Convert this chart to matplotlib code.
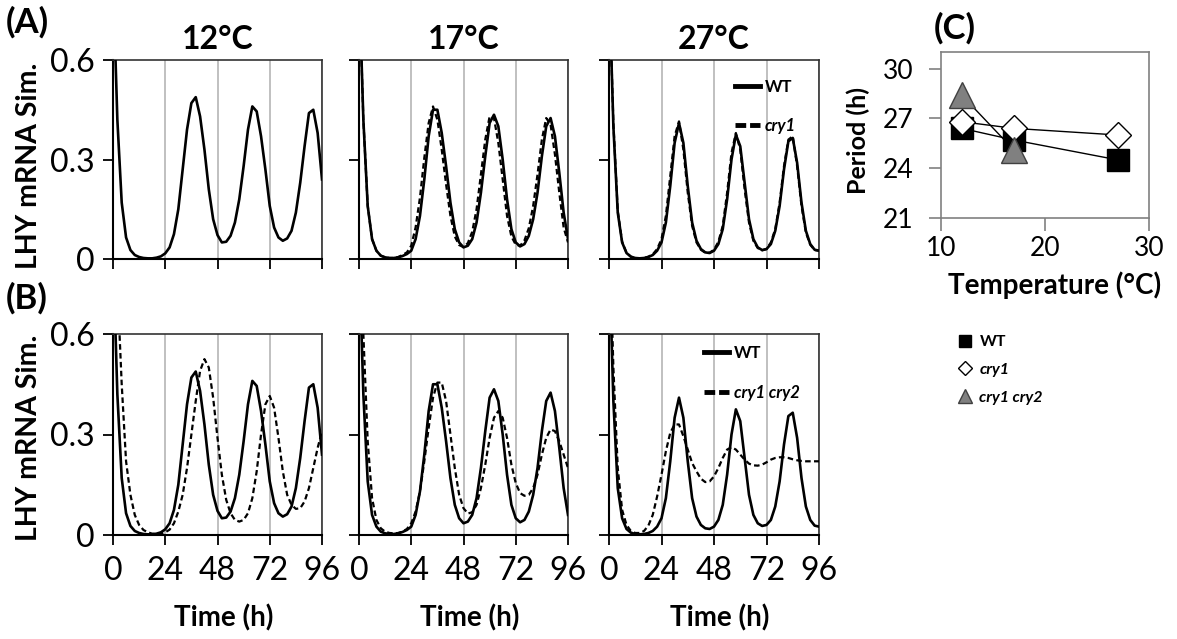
import matplotlib
matplotlib.use("Agg")
import matplotlib.pyplot as plt
from matplotlib.lines import Line2D

plt.rcParams['font.family'] = ['Lato', 'DejaVu Sans']

# ---------------- data ----------------
time_h = list(range(0, 97, 2))

lhy_wt_12 = [0.85, 0.42, 0.17, 0.065, 0.027, 0.012, 0.006, 0.003, 0.002, 0.002,
             0.004, 0.008, 0.017, 0.035, 0.075, 0.15, 0.27, 0.39, 0.47, 0.488,
             0.43, 0.33, 0.21, 0.12, 0.072, 0.05, 0.052, 0.07, 0.11, 0.18,
             0.28, 0.39, 0.46, 0.445, 0.37, 0.27, 0.16, 0.095, 0.065, 0.055,
             0.062, 0.085, 0.14, 0.23, 0.34, 0.44, 0.45, 0.38, 0.24]

lhy_cry12_12 = [1.1, 0.75, 0.45, 0.22, 0.12, 0.06, 0.03, 0.015, 0.008, 0.004,
                0.003, 0.004, 0.008, 0.016, 0.035, 0.07, 0.12, 0.2, 0.3, 0.4,
                0.49, 0.525, 0.5, 0.41, 0.29, 0.18, 0.105, 0.065, 0.045, 0.04,
                0.045, 0.065, 0.11, 0.19, 0.3, 0.39, 0.415, 0.38, 0.29, 0.19,
                0.12, 0.09, 0.078, 0.08, 0.1, 0.14, 0.2, 0.26, 0.31]

lhy_wt_17 = [0.85, 0.42, 0.16, 0.06, 0.025, 0.01, 0.005, 0.003, 0.003, 0.005,
             0.009, 0.015, 0.025, 0.06, 0.13, 0.24, 0.37, 0.45, 0.45, 0.38,
             0.28, 0.17, 0.09, 0.05, 0.035, 0.04, 0.06, 0.11, 0.2, 0.31,
             0.41, 0.435, 0.4, 0.3, 0.18, 0.09, 0.05, 0.038, 0.045, 0.07,
             0.12, 0.2, 0.31, 0.4, 0.425, 0.37, 0.26, 0.14, 0.06]

lhy_cry1_17 = [0.85, 0.42, 0.16, 0.06, 0.025, 0.01, 0.005, 0.003, 0.003, 0.006,
               0.012, 0.02, 0.04, 0.095, 0.185, 0.305, 0.41, 0.46, 0.42, 0.33,
               0.225, 0.13, 0.068, 0.042, 0.036, 0.048, 0.082, 0.15, 0.255, 0.36,
               0.43, 0.425, 0.35, 0.24, 0.13, 0.068, 0.043, 0.04, 0.056, 0.093,
               0.16, 0.255, 0.36, 0.425, 0.405, 0.315, 0.2, 0.095, 0.05]

lhy_cry12_17 = [1.0, 0.6, 0.28, 0.11, 0.045, 0.02, 0.01, 0.006, 0.005, 0.006,
                0.01, 0.018, 0.035, 0.07, 0.13, 0.22, 0.32, 0.41, 0.455, 0.455,
                0.4, 0.3, 0.2, 0.12, 0.08, 0.064, 0.068, 0.09, 0.14, 0.21,
                0.29, 0.35, 0.37, 0.35, 0.29, 0.21, 0.155, 0.125, 0.117, 0.12,
                0.14, 0.18, 0.24, 0.29, 0.315, 0.31, 0.28, 0.24, 0.2]

lhy_wt_27 = [0.85, 0.4, 0.14, 0.05, 0.018, 0.007, 0.003, 0.002, 0.003, 0.006,
             0.012, 0.025, 0.05, 0.11, 0.22, 0.35, 0.41, 0.35, 0.22, 0.11,
             0.055, 0.03, 0.02, 0.018, 0.025, 0.045, 0.09, 0.18, 0.3, 0.375,
             0.34, 0.23, 0.12, 0.06, 0.035, 0.027, 0.03, 0.045, 0.085, 0.16,
             0.27, 0.355, 0.365, 0.29, 0.17, 0.085, 0.045, 0.028, 0.025]

lhy_cry1_27 = [0.85, 0.41, 0.145, 0.052, 0.019, 0.007, 0.003, 0.002, 0.003, 0.007,
               0.014, 0.03, 0.06, 0.13, 0.25, 0.37, 0.415, 0.33, 0.2, 0.1,
               0.05, 0.028, 0.019, 0.019, 0.028, 0.052, 0.1, 0.2, 0.32, 0.38,
               0.33, 0.21, 0.11, 0.055, 0.033, 0.026, 0.03, 0.05, 0.09, 0.17,
               0.28, 0.36, 0.37, 0.28, 0.16, 0.08, 0.043, 0.027, 0.025]

lhy_cry12_27 = [0.95, 0.5, 0.2, 0.075, 0.03, 0.012, 0.006, 0.006, 0.012, 0.028,
                0.06, 0.115, 0.18, 0.25, 0.305, 0.33, 0.33, 0.295, 0.255, 0.215,
                0.19, 0.168, 0.158, 0.16, 0.175, 0.2, 0.23, 0.255, 0.262, 0.255,
                0.24, 0.225, 0.213, 0.208, 0.207, 0.21, 0.217, 0.225, 0.23, 0.232,
                0.232, 0.23, 0.226, 0.223, 0.221, 0.22, 0.22, 0.22, 0.22]

temp_titles = ["12°C", "17°C", "27°C"]
x_ticks = [0, 24, 48, 72, 96]
y_ticks = [0, 0.3, 0.6]
y_ticklabels = ["0", "0.3", "0.6"]

temps_c = [12, 17, 27]
period_wt = [26.4, 25.7, 24.5]
period_cry1 = [26.8, 26.4, 26.0]
temps_c2 = [12, 17]
period_cry12 = [28.4, 25.1]

# ---------------- layout ----------------
W, H = 1177, 639
fig = plt.figure(figsize=(W / 100, H / 100), dpi=100)


def rect(l, t, r, b):
    return [l / W, 1 - b / H, (r - l) / W, (b - t) / H]


def fx(x):
    return x / W


def fy(y):
    return 1 - y / H


cols = [(113, 322), (359, 568), (609, 819)]
rows = [(60, 259), (334, 535)]

rowA = [(lhy_wt_12, None), (lhy_wt_17, lhy_cry1_17), (lhy_wt_27, lhy_cry1_27)]
rowB = [(lhy_wt_12, lhy_cry12_12), (lhy_wt_17, lhy_cry12_17), (lhy_wt_27, lhy_cry12_27)]

axes = {}
for r, (top, bot) in enumerate(rows):
    series = rowA if r == 0 else rowB
    for c, (lft, rgt) in enumerate(cols):
        ax = fig.add_axes(rect(lft, top, rgt, bot))
        axes[(r, c)] = ax
        wt, mut = series[c]
        ax.plot(time_h, wt, color='black', lw=1.9, zorder=3,
                solid_joinstyle='round')
        if mut is not None:
            ax.plot(time_h, mut, color='black', lw=1.6, ls=(0, (2.5, 1.5)), zorder=4)
        ax.set_xlim(0, 96)
        ax.set_ylim(0, 0.6)
        ax.set_xticks(x_ticks)
        ax.set_yticks(y_ticks)
        ax.set_yticklabels(y_ticklabels)
        ax.grid(axis='x', color='#b5b5b5', lw=1.2)
        ax.set_axisbelow(True)
        ax.tick_params(direction='out', length=7, width=1.3, labelsize=23,
                       color='black', pad=6)
        ax.tick_params(axis='x', pad=8)
        if c > 0:
            ax.tick_params(labelleft=False)
        if r == 0:
            ax.tick_params(labelbottom=False)
        for s in ['left', 'bottom']:
            ax.spines[s].set_color('black')
            ax.spines[s].set_linewidth(1.5)
        for s in ['top', 'right']:
            ax.spines[s].set_color('#333333')
            ax.spines[s].set_linewidth(1.2)
        if r == 0:
            ax.set_title(temp_titles[c], fontsize=23, fontweight='bold', pad=8)
        if r == 1:
            fig.text(fx((lft + rgt) / 2 + 6), fy(618), "Time (h)", fontsize=20,
                     fontweight='bold', ha='center', va='center')

# y labels
fig.text(fx(29), fy(166), "LHY mRNA Sim.", rotation=90, fontsize=20.5,
         fontweight='bold', ha='center', va='center')
fig.text(fx(29), fy(438), "LHY mRNA Sim.", rotation=90, fontsize=20.5,
         fontweight='bold', ha='center', va='center')

# panel letters
fig.text(fx(6), fy(22), "(A)", fontsize=25, fontweight='bold', ha='left', va='center')
fig.text(fx(6), fy(298), "(B)", fontsize=25, fontweight='bold', ha='left', va='center')
fig.text(fx(934), fy(28), "(C)", fontsize=25, fontweight='bold', ha='left', va='center')

# legends for time-course panels
legA = axes[(0, 2)].legend(
    [Line2D([], [], color='black', lw=3.5),
     Line2D([], [], color='black', lw=3.5, ls=(0, (2.2, 0.8)))],
    ["WT", "cry1"], loc='upper left', bbox_to_anchor=(fx(735), fy(79)),
    bbox_transform=fig.transFigure, frameon=False,
    prop={'weight': 'bold', 'size': 12}, handlelength=1.5, handletextpad=0.3,
    labelspacing=1.35, borderpad=0, borderaxespad=0)
legA.get_texts()[1].set_style('italic')

legB = axes[(1, 2)].legend(
    [Line2D([], [], color='black', lw=3.5),
     Line2D([], [], color='black', lw=3.5, ls=(0, (2.2, 0.8)))],
    ["WT", "cry1 cry2"], loc='upper left', bbox_to_anchor=(fx(704), fy(345)),
    bbox_transform=fig.transFigure, frameon=False,
    prop={'weight': 'bold', 'size': 12}, handlelength=1.5, handletextpad=0.3,
    labelspacing=1.45, borderpad=0, borderaxespad=0)
legB.get_texts()[1].set_style('italic')

# ---------------- panel C ----------------
axc = fig.add_axes(rect(941, 52, 1149, 218))
axc.plot(temps_c, period_wt, color='black', lw=1, marker='s', ms=16,
         mfc='black', mec='black', zorder=3)
axc.plot(temps_c, period_cry1, color='black', lw=1, marker='D', ms=13,
         mfc='white', mec='black', mew=1, zorder=4)
axc.plot(temps_c2, period_cry12, color='black', lw=1, marker='^', ms=19,
         mfc='#808080', mec='#404040', mew=1, zorder=5)
axc.set_xlim(10, 30)
axc.set_ylim(21, 31)
axc.set_xticks([10, 20, 30])
axc.set_yticks([21, 24, 27, 30])
axc.tick_params(direction='out', length=9, width=1.2, color='#808080', labelsize=19)
axc.tick_params(axis='y', pad=11)
axc.tick_params(axis='x', pad=4)
for s in axc.spines.values():
    s.set_color('#808080')
    s.set_linewidth(1.2)
fig.text(fx(858), fy(141), "Period (h)", rotation=90, fontsize=18,
         fontweight='bold', ha='center', va='center')
fig.text(fx(1055), fy(285), "Temperature (°C)", fontsize=20,
         fontweight='bold', ha='center', va='center')

legC = axc.legend(
    [Line2D([], [], ls='none', marker='s', ms=8, mfc='black', mec='black'),
     Line2D([], [], ls='none', marker='D', ms=7, mfc='white', mec='black', mew=1),
     Line2D([], [], ls='none', marker='^', ms=10, mfc='#808080', mec='#404040', mew=1)],
    ["WT", "cry1", "cry1 cry2"], loc='upper left',
    bbox_to_anchor=(fx(957), fy(335)), bbox_transform=fig.transFigure,
    frameon=False, prop={'weight': 'bold', 'size': 11.5}, handlelength=1.0,
    handletextpad=0.4, labelspacing=0.85, borderpad=0, borderaxespad=0)
legC.get_texts()[1].set_style('italic')
legC.get_texts()[2].set_style('italic')

fig.savefig("out.png", dpi=100)
